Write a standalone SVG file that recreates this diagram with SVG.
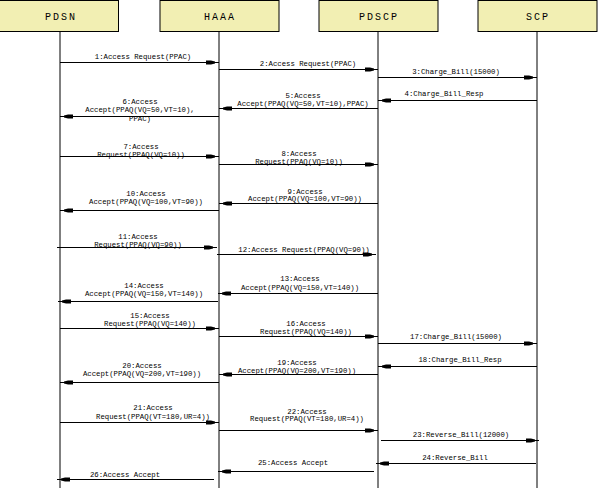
<svg xmlns="http://www.w3.org/2000/svg" width="599" height="488" viewBox="0 0 599 488">
<style>
.box{fill:#f2efb3;stroke:#000;stroke-width:1}
.life{stroke:#000;stroke-width:1}
.msg{stroke:#000;stroke-width:1;fill:none;marker-end:url(#ah)}
.hd{font-family:"Liberation Mono","DejaVu Sans Mono",monospace;font-size:10px;letter-spacing:2px;text-anchor:middle;fill:#000}
.lb{font-family:"Liberation Mono","DejaVu Sans Mono",monospace;font-size:7.3px;text-anchor:middle;fill:#000}
</style>
<defs>
<marker id="ah" markerUnits="userSpaceOnUse" viewBox="0 -3 13 6" refX="13" refY="0" markerWidth="13" markerHeight="6" orient="auto">
<path d="M0,-2 H5 L9,-1 V1 L5,2 H0 Z" fill="#000"/>
</marker>
</defs>
<rect width="599" height="488" fill="#fff"/>
<g id="PDSN"><rect class="box" x="-0.5" y="0.5" width="119" height="31"/><text class="hd" x="61" y="20">PDSN</text><line class="life" x1="60" y1="31.5" x2="60" y2="488"/></g>
<g id="HAAA"><rect class="box" x="160" y="0.5" width="119" height="31"/><text class="hd" x="220" y="20">HAAA</text><line class="life" x1="219" y1="31.5" x2="219" y2="488"/></g>
<g id="PDSCP"><rect class="box" x="319" y="0.5" width="119" height="31"/><text class="hd" x="379" y="20">PDSCP</text><line class="life" x1="378" y1="31.5" x2="378" y2="488"/></g>
<g id="SCP"><rect class="box" x="478" y="0.5" width="119" height="31"/><text class="hd" x="538" y="20">SCP</text><line class="life" x1="537" y1="31.5" x2="537" y2="488"/></g>
<g id="connectors">
<line class="msg" x1="60" y1="62.5" x2="219" y2="62.5"/>
<line class="msg" x1="219" y1="69.5" x2="378" y2="69.5"/>
<line class="msg" x1="378" y1="77.5" x2="537" y2="77.5"/>
<line class="msg" x1="537" y1="100.5" x2="378" y2="100.5"/>
<line class="msg" x1="378" y1="108.5" x2="219" y2="108.5"/>
<line class="msg" x1="219" y1="116.5" x2="60" y2="116.5"/>
<line class="msg" x1="60" y1="156.5" x2="219" y2="156.5"/>
<line class="msg" x1="219" y1="164.5" x2="378" y2="164.5"/>
<line class="msg" x1="378" y1="203.5" x2="219" y2="203.5"/>
<line class="msg" x1="219" y1="210.5" x2="60" y2="210.5"/>
<line class="msg" x1="57" y1="247.5" x2="217" y2="247.5"/>
<line class="msg" x1="217" y1="254.5" x2="376" y2="254.5"/>
<line class="msg" x1="378" y1="293.5" x2="218" y2="293.5"/>
<line class="msg" x1="218" y1="301.5" x2="58" y2="301.5"/>
<line class="msg" x1="60" y1="328.5" x2="219" y2="328.5"/>
<line class="msg" x1="219" y1="336.5" x2="378" y2="336.5"/>
<line class="msg" x1="378" y1="343.5" x2="537" y2="343.5"/>
<line class="msg" x1="537" y1="366.5" x2="378" y2="366.5"/>
<line class="msg" x1="378" y1="374.5" x2="219" y2="374.5"/>
<line class="msg" x1="219" y1="382.5" x2="60" y2="382.5"/>
<line class="msg" x1="60" y1="422.5" x2="219" y2="422.5"/>
<line class="msg" x1="219" y1="430.5" x2="378" y2="430.5"/>
<line class="msg" x1="381" y1="440.5" x2="539" y2="440.5"/>
<line class="msg" x1="536" y1="463.5" x2="376" y2="463.5"/>
<line class="msg" x1="374" y1="471.5" x2="218" y2="471.5"/>
<line class="msg" x1="214" y1="479.5" x2="57" y2="479.5"/>
</g>
<g id="labels">
<text class="lb" x="143" y="59">1:Access Request(PPAC)</text>
<text class="lb" x="308" y="66">2:Access Request(PPAC)</text>
<text class="lb" x="456" y="73.5">3:Charge_Bill(15000)</text>
<text class="lb" x="444" y="95.5">4:Charge_Bill_Resp</text>
<text class="lb" x="303" y="97.5">5:Access</text>
<text class="lb" x="303" y="105.5">Accept(PPAQ(VQ=50,VT=10),PPAC)</text>
<text class="lb" x="140" y="103.5">6:Access</text>
<text class="lb" x="140" y="112">Accept(PPAQ(VQ=50,VT=10),</text>
<text class="lb" x="140" y="120.5">PPAC)</text>
<text class="lb" x="141" y="148.5">7:Access</text>
<text class="lb" x="141" y="157">Request(PPAQ(VQ=10))</text>
<text class="lb" x="299" y="155.5">8:Access</text>
<text class="lb" x="299" y="164">Request(PPAQ(VQ=10))</text>
<text class="lb" x="305" y="193.5">9:Access</text>
<text class="lb" x="305" y="200.5">Accept(PPAQ(VQ=100,VT=90))</text>
<text class="lb" x="146" y="195.5">10:Access</text>
<text class="lb" x="146" y="203.5">Accept(PPAQ(VQ=100,VT=90))</text>
<text class="lb" x="138" y="238.5">11:Access</text>
<text class="lb" x="138" y="247">Request(PPAQ(VQ=90))</text>
<text class="lb" x="304" y="251.5">12:Access Request(PPAQ(VQ=90))</text>
<text class="lb" x="300" y="280.5">13:Access</text>
<text class="lb" x="300" y="289.5">Accept(PPAQ(VQ=150,VT=140))</text>
<text class="lb" x="144" y="287.5">14:Access</text>
<text class="lb" x="144" y="295.5">Accept(PPAQ(VQ=150,VT=140))</text>
<text class="lb" x="150" y="317.5">15:Access</text>
<text class="lb" x="150" y="325.5">Request(PPAQ(VQ=140))</text>
<text class="lb" x="306" y="325.5">16:Access</text>
<text class="lb" x="306" y="333.5">Request(PPAQ(VQ=140))</text>
<text class="lb" x="456" y="338.5">17:Charge_Bill(15000)</text>
<text class="lb" x="460" y="361.5">18:Charge_Bill_Resp</text>
<text class="lb" x="297" y="364.5">19:Access</text>
<text class="lb" x="297" y="372.5">Accept(PPAQ(VQ=200,VT=190))</text>
<text class="lb" x="142" y="367.5">20:Access</text>
<text class="lb" x="142" y="375.5">Accept(PPAQ(VQ=200,VT=190))</text>
<text class="lb" x="153" y="409.5">21:Access</text>
<text class="lb" x="153" y="418.5">Request(PPAQ(VT=180,UR=4))</text>
<text class="lb" x="307" y="413.5">22:Access</text>
<text class="lb" x="307" y="420.5">Request(PPAQ(VT=180,UR=4))</text>
<text class="lb" x="461" y="436.5">23:Reverse_Bill(12000)</text>
<text class="lb" x="455" y="459.5">24:Reverse_Bill</text>
<text class="lb" x="293" y="464.5">25:Access Accept</text>
<text class="lb" x="125" y="476.5">26:Access Accept</text>
</g>
</svg>
